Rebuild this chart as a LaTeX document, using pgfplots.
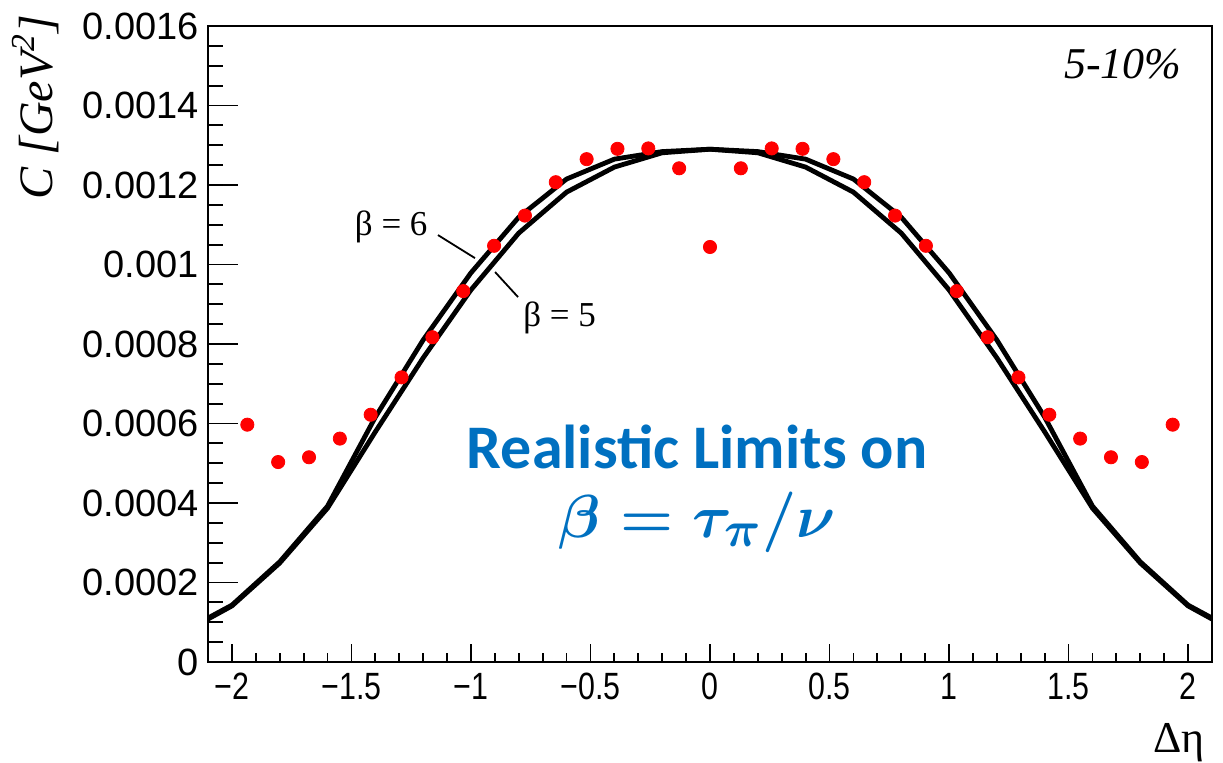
\documentclass[border=0pt]{standalone}
\usepackage{pgfplots}
\pgfplotsset{compat=1.18}
\usepackage{amsmath}
\usepackage{fontspec}
\setmainfont{Liberation Serif}
\newfontfamily\arial{Liberation Sans}
\newfontfamily\calibri{Carlito}
\definecolor{textblue}{RGB}{0,112,192}
\newcommand\xl[1]{\scalebox{0.8}[1]{#1}}

% measured correlator C(Delta eta), 31 bins on [-2,2]
\pgfplotstableread{
x y
-1.9355 0.000597
-1.8065 0.000503
-1.6774 0.000515
-1.5484 0.000562
-1.4194 0.000622
-1.2903 0.000716
-1.1613 0.000817
-1.0323 0.000933
-0.9032 0.001047
-0.7742 0.001123
-0.6452 0.001207
-0.5161 0.001265
-0.3871 0.001291
-0.2581 0.001292
-0.1290 0.001242
0.0000 0.001044
0.1290 0.001242
0.2581 0.001292
0.3871 0.001291
0.5161 0.001265
0.6452 0.001207
0.7742 0.001123
0.9032 0.001047
1.0323 0.000933
1.1613 0.000817
1.2903 0.000716
1.4194 0.000622
1.5484 0.000562
1.6774 0.000515
1.8065 0.000503
1.9355 0.000597
}\measured

% model, beta = 6
\pgfplotstableread{
x y
-2.2 0.000078
-2.0 0.000143
-1.8 0.000252
-1.6 0.000392
-1.4 0.000616
-1.2 0.000810
-1.0 0.000979
-0.8 0.001119
-0.6 0.001215
-0.4 0.001265
-0.2 0.001284
0.0 0.001290
0.2 0.001284
0.4 0.001265
0.6 0.001215
0.8 0.001119
1.0 0.000979
1.2 0.000810
1.4 0.000616
1.6 0.000392
1.8 0.000252
2.0 0.000143
2.2 0.000078
}\betasix

% model, beta = 5
\pgfplotstableread{
x y
-2.2 0.000075
-2.0 0.000141
-1.8 0.000249
-1.6 0.000387
-1.4 0.000579
-1.2 0.000765
-1.0 0.000936
-0.8 0.001079
-0.6 0.001182
-0.4 0.001245
-0.2 0.001281
0.0 0.001290
0.2 0.001281
0.4 0.001245
0.6 0.001182
0.8 0.001079
1.0 0.000936
1.2 0.000765
1.4 0.000579
1.6 0.000387
1.8 0.000249
2.0 0.000141
2.2 0.000075
}\betafive

\begin{document}
\begin{tikzpicture}
\path[use as bounding box] (0,0) rectangle (611.5pt,381.5pt);

\pgfplotsset{
  frame/.style={
    at={(104pt,50.5pt)}, anchor=south west,
    scale only axis, width=502pt, height=318pt,
    xmin=-2.1, xmax=2.1, ymin=0, ymax=0.0016,
    axis line style={line width=1.3pt},
    tick style={line width=0.9pt, black},
    tick align=inside,
    scaled x ticks=false, scaled y ticks=false,
    clip mode=individual,
  }
}

% x ticks and label
\begin{axis}[frame,
  ytick=\empty,
  xtick pos=bottom,
  xtick={-2,-1.5,-1,-0.5,0,0.5,1,1.5,2},
  xticklabels={\xl{−2},\xl{−1.5},\xl{−1},\xl{−0.5},\xl{0},\xl{0.5},\xl{1},\xl{1.5},\xl{2}},
  minor x tick num=4,
  major tick length=9pt, minor tick length=4.5pt,
  xticklabel style={font=\arial\fontsize{19}{19}\selectfont, yshift=-2pt},
]
\node[anchor=base east, inner sep=0pt, font=\fontsize{22}{22}\selectfont]
  at (rel axis cs:0.993,-0.143) {Δη};
\end{axis}

% data, y ticks and annotations
\begin{axis}[frame,
  xtick=\empty,
  ytick pos=left,
  ytick={0,0.0002,0.0004,0.0006,0.0008,0.001,0.0012,0.0014,0.0016},
  yticklabels={0,0.0002,0.0004,0.0006,0.0008,0.001,0.0012,0.0014,0.0016},
  minor y tick num=3,
  major tick length=15pt, minor tick length=7.5pt,
  yticklabel style={font=\arial\fontsize{19}{19}\selectfont, xshift=-1pt},
]
\addplot[black, line width=2.4pt, line join=round] table[x=x,y=y] {\betasix};
\addplot[black, line width=2.4pt, line join=round] table[x=x,y=y] {\betafive};
\addplot[only marks, mark=*, mark size=3.3pt, color=red, mark options={draw=red, fill=red}]
  table[x=x,y=y] {\measured};

\node[rotate=90, anchor=base east, inner sep=0pt, font=\itshape\fontsize{24}{24}\selectfont]
  at (rel axis cs:-0.1545,1.018) {C [GeV\textsuperscript{2}]};

\draw[line width=0.9pt] (axis cs:-1.138,0.001074) -- (axis cs:-0.983,0.001016);
\draw[line width=0.9pt] (axis cs:-0.899,0.000981) -- (axis cs:-0.803,0.000918);
\node[anchor=base east, inner sep=0pt, font=\fontsize{17.5}{17.5}\selectfont]
  at (axis cs:-1.18,0.001074) {β = 6};
\node[anchor=base west, inner sep=0pt, font=\fontsize{17.5}{17.5}\selectfont]
  at (axis cs:-0.782,0.000843) {β = 5};

\node[anchor=base east, inner sep=0pt, font=\itshape\fontsize{22}{22}\selectfont]
  at (rel axis cs:0.970,0.918) {5-10\%};

\node[anchor=base, inner sep=0pt, text=textblue, font=\calibri\bfseries\fontsize{31}{31}\selectfont]
  at (axis cs:-0.054,0.000488) {Realistic Limits on};
\node[anchor=base, inner sep=0pt, text=textblue, font=\fontsize{24.88}{30}\selectfont]
  at (axis cs:-0.054,0.000314) {\scalebox{1.22}{$\boldsymbol{\beta = \tau_{\pi}/\nu}$}};
\end{axis}
\end{tikzpicture}
\end{document}
